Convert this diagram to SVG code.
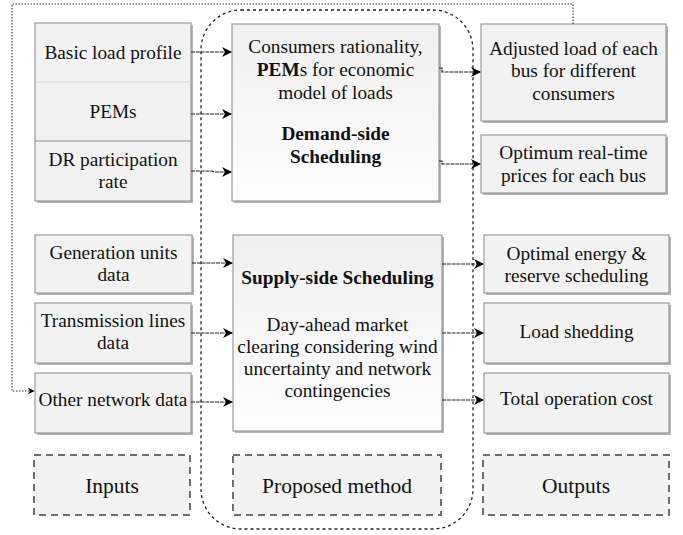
<svg xmlns="http://www.w3.org/2000/svg" width="683" height="535" viewBox="0 0 683 535">
<defs>
<linearGradient id="g1" x1="0" y1="0" x2="0" y2="1">
<stop offset="0" stop-color="#efefef"/>
<stop offset="1" stop-color="#fdfdfd"/>
</linearGradient>
<marker id="ah" viewBox="0 0 10 10" refX="9" refY="5" markerWidth="10" markerHeight="10" markerUnits="userSpaceOnUse" orient="auto">
<path d="M0,0 L10,5 L0,10 L3,5 Z" fill="#000"/>
</marker>
<marker id="ahs" viewBox="0 0 10 10" refX="9" refY="5" markerWidth="7" markerHeight="7" markerUnits="userSpaceOnUse" orient="auto">
<path d="M0,0 L10,5 L0,10 L3,5 Z" fill="#000"/>
</marker>
</defs>
<style>
.box{fill:#f2f2f2;stroke:#9a9a9a;stroke-width:1.2}
.gbox{fill:url(#g1);stroke:#9a9a9a;stroke-width:1.2}
.sh{fill:#b4b4b4}
.lbl{fill:#f2f2f2;stroke:#6e6e6e;stroke-width:2;stroke-dasharray:7,5}
text{font-family:'Liberation Serif','Times New Roman',serif;font-size:19.3px;fill:#111;text-anchor:middle}
.b{font-weight:bold}
.big{font-size:21.5px}
.con{fill:none;stroke:#222;stroke-width:1.2;stroke-dasharray:4,0.8;marker-end:url(#ah)}
.fb{fill:none;stroke:#333;stroke-width:1.1;stroke-dasharray:1.5,1.5;marker-end:url(#ahs)}
.cont{fill:none;stroke:#222;stroke-width:1.3;stroke-dasharray:3,3}
</style>

<g id="container">
<rect class="cont" x="201" y="10" width="272" height="519" rx="40" ry="40"/>
</g>

<g id="in-load">
<rect class="sh" x="37" y="25" width="156" height="178"/>
<rect class="box" x="35" y="23" width="156" height="178"/>
<line x1="35" y1="82" x2="191" y2="82" stroke="#d2d2d2" stroke-width="1.2"/>
<line x1="35" y1="141" x2="191" y2="141" stroke="#8a8a8a" stroke-width="1.2"/>
<text x="113" y="59">Basic load profile</text>
<text x="113" y="118">PEMs</text>
<text x="113" y="166">DR participation</text>
<text x="113" y="188">rate</text>
</g>

<g id="in-gen">
<rect class="sh" x="37" y="237" width="157" height="58"/>
<rect class="box" x="35" y="235" width="157" height="58"/>
<text x="113.5" y="259">Generation units</text>
<text x="113.5" y="281">data</text>
</g>

<g id="in-trans">
<rect class="sh" x="37" y="305" width="156" height="60"/>
<rect class="box" x="35" y="303" width="156" height="60"/>
<text x="113" y="327">Transmission lines</text>
<text x="113" y="349">data</text>
</g>

<g id="in-other">
<rect class="sh" x="37" y="375" width="156" height="60"/>
<rect class="box" x="35" y="373" width="156" height="60"/>
<text x="113" y="406">Other network data</text>
</g>

<g id="demand">
<rect class="sh" x="234" y="26" width="207" height="177"/>
<rect class="gbox" x="232" y="24" width="207" height="177"/>
<text x="335.5" y="53">Consumers rationality,</text>
<text x="335.5" y="76"><tspan class="b">PEM</tspan>s for economic</text>
<text x="335.5" y="99">model of loads</text>
<text class="b" x="335.5" y="140">Demand-side</text>
<text class="b" x="335.5" y="163">Scheduling</text>
</g>

<g id="supply">
<rect class="sh" x="235" y="237" width="209" height="196"/>
<rect class="gbox" x="233" y="235" width="209" height="196"/>
<text class="b" x="337.5" y="284">Supply-side Scheduling</text>
<text x="337.5" y="331">Day-ahead market</text>
<text x="337.5" y="353">clearing considering wind</text>
<text x="337.5" y="375">uncertainty and network</text>
<text x="337.5" y="397">contingencies</text>
</g>

<g id="out-adjusted">
<rect class="sh" x="483" y="26" width="185" height="97"/>
<rect class="box" x="481" y="24" width="185" height="97"/>
<text x="573.5" y="55">Adjusted load of each</text>
<text x="573.5" y="77">bus for different</text>
<text x="573.5" y="100">consumers</text>
</g>

<g id="out-prices">
<rect class="sh" x="483" y="137" width="185" height="58"/>
<rect class="box" x="481" y="135" width="185" height="58"/>
<text x="573.5" y="159">Optimum real-time</text>
<text x="573.5" y="182">prices for each bus</text>
</g>

<g id="out-energy">
<rect class="sh" x="486" y="237" width="185" height="58"/>
<rect class="box" x="484" y="235" width="185" height="58"/>
<text x="576.5" y="260">Optimal energy &amp;</text>
<text x="576.5" y="282">reserve scheduling</text>
</g>

<g id="out-shedding">
<rect class="sh" x="486" y="305" width="185" height="60"/>
<rect class="box" x="484" y="303" width="185" height="60"/>
<text x="576.5" y="338">Load shedding</text>
</g>

<g id="out-cost">
<rect class="sh" x="486" y="375" width="185" height="60"/>
<rect class="box" x="484" y="373" width="185" height="60"/>
<text x="576.5" y="405">Total operation cost</text>
</g>

<g id="lbl-inputs">
<rect class="lbl" x="34" y="455" width="156" height="60"/>
<text class="big" x="112" y="493">Inputs</text>
</g>
<g id="lbl-method">
<rect class="lbl" x="233" y="455" width="208" height="60"/>
<text class="big" x="337" y="493">Proposed method</text>
</g>
<g id="lbl-outputs">
<rect class="lbl" x="483" y="455" width="186" height="60"/>
<text class="big" x="576" y="493">Outputs</text>
</g>

<g id="connectors">
<path class="con" d="M191,52 H231"/>
<path class="con" d="M191,114 H231"/>
<path class="con" d="M191,171 H212 L214,172 H231"/>
<path class="con" d="M439,68 H442 V72 H480"/>
<path class="con" d="M439,161 H442 V164 H480"/>
<path class="con" d="M192,263 H232"/>
<path class="con" d="M191,333 H232"/>
<path class="con" d="M191,402 H232"/>
<path class="con" d="M442,264 H483"/>
<path class="con" d="M442,333 H483"/>
<path class="con" d="M442,400 H483"/>
<path class="fb" d="M573,24 V4 H12 V391 H34"/>
</g>
</svg>
